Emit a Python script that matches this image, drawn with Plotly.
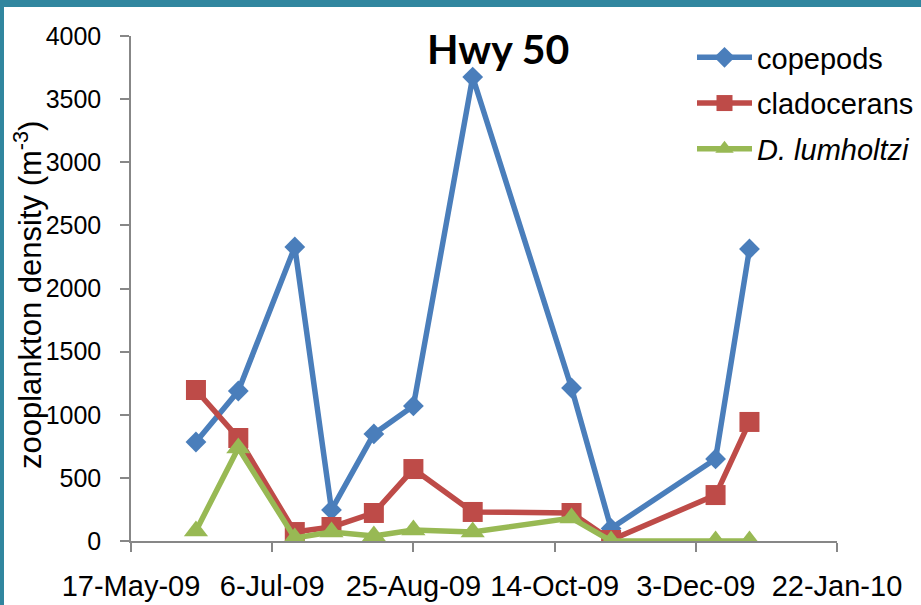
import plotly.graph_objects as go

# Sampling dates at the Hwy 50 site
dates = ["2009-06-09", "2009-06-24", "2009-07-14", "2009-07-27", "2009-08-11",
         "2009-08-25", "2009-09-15", "2009-10-20", "2009-11-03", "2009-12-10",
         "2009-12-22"]

# Densities (individuals per m^3)
copepods = [784, 1188, 2329, 246, 848, 1070, 3675, 1212, 100, 650, 2313]
cladocerans = [1196, 816, 71, 111, 222, 570, 230, 222, 8, 364, 943]
d_lumholtzi = [80, 737, 24, 71, 40, 87, 71, 182, 0, 0, 0]

x_tickvals = ["2009-05-17", "2009-07-06", "2009-08-25", "2009-10-14",
              "2009-12-03", "2010-01-22"]
x_ticktext = ["17-May-09", "6-Jul-09", "25-Aug-09", "14-Oct-09",
              "3-Dec-09", "22-Jan-10"]
y_tickvals = [0, 500, 1000, 1500, 2000, 2500, 3000, 3500, 4000]

W, H = 921, 605
L, R, T, B = 131, 84, 36, 64
pw, ph = W - L - R, H - T - B

def px_x(p):
    return (p - L) / pw

def px_y(p):
    return (H - B - p) / ph

fig = go.Figure()
series = [
    ("copepods", copepods, "#4A7EBB", "diamond", 16),
    ("cladocerans", cladocerans, "#BE4B48", "square", 20),
    ("<i>D. lumholtzi</i>", d_lumholtzi, "#98B954", "triangle-up", 21),
]
for i, (name, vals, col, sym, sz) in enumerate(series):
    fig.add_trace(go.Scatter(
        x=dates, y=vals, name=name, mode="lines+markers",
        line=dict(color=col, width=5.5),
        marker=dict(symbol=sym, size=sz, color=col),
        legendgroup=f"g{i}",
    ))

axis_col = "#878787"
fig.update_layout(
    width=W, height=H, autosize=False,
    margin=dict(l=L, r=R, t=T, b=B, pad=0, autoexpand=False),
    paper_bgcolor="white", plot_bgcolor="white",
    font=dict(family="Liberation Sans, Arial, sans-serif", color="black"),
    showlegend=True,
    legend=dict(
        x=px_x(692), y=px_y(32), xanchor="left", yanchor="top",
        font=dict(size=29), itemwidth=55, tracegroupgap=5,
        bgcolor="rgba(0,0,0,0)", borderwidth=0,
    ),
    xaxis=dict(
        type="date", range=["2009-05-17", "2010-01-22"], automargin=False,
        tickmode="array", tickvals=x_tickvals, ticktext=x_ticktext,
        showgrid=False, zeroline=False, showline=True, linecolor=axis_col,
        linewidth=1.5, ticks="outside", ticklen=9, tickcolor=axis_col,
        tickwidth=1.5, tickfont=dict(size=29), ticklabelstandoff=9,
    ),
    yaxis=dict(
        range=[0, 4000], tickmode="array", tickvals=y_tickvals,
        automargin=False,
        showgrid=False, zeroline=False, showline=True, linecolor=axis_col,
        linewidth=1.5, ticks="outside", ticklen=9, tickcolor=axis_col,
        tickwidth=1.5, tickfont=dict(size=25), ticklabelstandoff=14,
    ),
    annotations=[
        dict(text="<b>Hwy 50</b>", x=px_x(498), y=px_y(48), xref="paper",
             yref="paper", showarrow=False, xanchor="center", yanchor="middle",
             font=dict(family="Lato, sans-serif", size=41, color="black")),
        dict(text="zooplankton density (m<sup>-3</sup>)", x=px_x(28),
             y=px_y(295), xref="paper", yref="paper", showarrow=False,
             xanchor="center", yanchor="middle", textangle=-90,
             font=dict(size=31, color="black")),
    ],
    shapes=[
        dict(type="rect", xref="paper", yref="paper", x0=px_x(0), x1=px_x(W),
             y0=px_y(0), y1=px_y(7), fillcolor="#31869F", line_width=0,
             layer="above"),
        dict(type="rect", xref="paper", yref="paper", x0=px_x(0), x1=px_x(4),
             y0=px_y(0), y1=px_y(H), fillcolor="#31869F", line_width=0,
             layer="above"),
    ],
)

fig.write_html("out.html")
